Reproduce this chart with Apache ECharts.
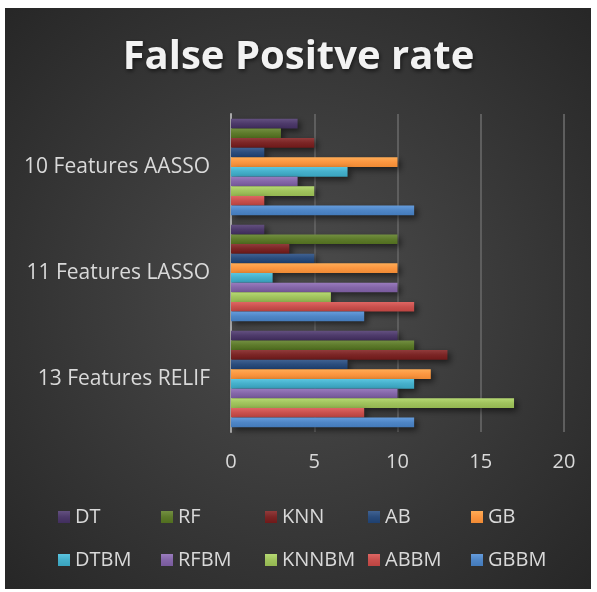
<!DOCTYPE html>
<html>
<head>
<meta charset="utf-8">
<title>False Positve rate</title>
<script src="https://cdn.jsdelivr.net/npm/echarts@6/dist/echarts.min.js"></script>
<style>
  html, body { margin: 0; padding: 0; background: #fff; }
  #chart { width: 597px; height: 592px; }
</style>
</head>
<body>
<div id="chart"></div>
<script>
// categories, bottom to top
const categories = ['13 Features RELIF', '11 Features LASSO', '10 Features AASSO'];
const xTicks = [0, 5, 10, 15, 20];

// values per series, in category order above
const DT    = [10, 2, 4];
const RF    = [11, 10, 3];
const KNN   = [13, 3.5, 5];
const AB    = [7, 5, 2];
const GB    = [12, 10, 10];
const DTBM  = [11, 2.5, 7];
const RFBM  = [10, 10, 4];
const KNNBM = [17, 6, 5];
const ABBM  = [8, 11, 2];
const GBBM  = [11, 8, 11];

const legendRow1 = ['DT', 'RF', 'KNN', 'AB', 'GB'];
const legendRow2 = ['DTBM', 'RFBM', 'KNNBM', 'ABBM', 'GBBM'];

// first series sits at the top of each group
const seriesList = [
  { name: 'DT',    data: DT,    color: '#4d3a6a' },
  { name: 'RF',    data: RF,    color: '#5d7a2b' },
  { name: 'KNN',   data: KNN,   color: '#7b2525' },
  { name: 'AB',    data: AB,    color: '#2a4c7c' },
  { name: 'GB',    data: GB,    color: '#fb9640' },
  { name: 'DTBM',  data: DTBM,  color: '#45afca' },
  { name: 'RFBM',  data: RFBM,  color: '#8466a8' },
  { name: 'KNNBM', data: KNNBM, color: '#a0c35d' },
  { name: 'ABBM',  data: ABBM,  color: '#c9504d' },
  { name: 'GBBM',  data: GBBM,  color: '#4f86c6' }
];

function shade(hex, amt) {
  let n = parseInt(hex.slice(1), 16);
  let r = Math.min(255, Math.max(0, (n >> 16) + amt));
  let g = Math.min(255, Math.max(0, ((n >> 8) & 255) + amt));
  let b = Math.min(255, Math.max(0, (n & 255) + amt));
  return 'rgb(' + r + ',' + g + ',' + b + ')';
}

function barGrad(c) {
  return {
    type: 'linear', x: 0, y: 0, x2: 0, y2: 1,
    colorStops: [
      { offset: 0, color: shade(c, 22) },
      { offset: 0.5, color: c },
      { offset: 1, color: shade(c, -12) }
    ]
  };
}

const font = '"Open Sans", sans-serif';

// one legend per item so the columns line up like the original
const legendCols = [53, 156, 260, 363, 466];
const legendTops = [502, 545];
const legends = [];
[legendRow1, legendRow2].forEach((row, r) => {
  row.forEach((name, i) => {
    legends.push({
      left: legendCols[i],
      top: legendTops[r],
      itemWidth: 12,
      itemHeight: 12,
      icon: 'rect',
      selectedMode: false,
      data: [name],
      textStyle: { color: '#d9d9d9', fontFamily: font, fontSize: 20 }
    });
  });
});

const option = {
  animation: false,
  graphic: [{
    type: 'rect',
    z: -10,
    silent: true,
    shape: { x: 5, y: 8, width: 586, height: 581 },
    style: {
      fill: {
        type: 'radial', x: 0.5, y: 0.5, r: 0.72,
        colorStops: [
          { offset: 0, color: '#4d4d4d' },
          { offset: 1, color: '#262626' }
        ]
      }
    }
  }],
  title: {
    text: 'False Positve rate',
    left: 'center',
    top: 33,
    textStyle: {
      color: '#f2f2f2',
      fontFamily: font,
      fontWeight: 'bold',
      fontSize: 40,
      textShadowColor: 'rgba(0,0,0,0.6)',
      textShadowBlur: 4,
      textShadowOffsetX: 1,
      textShadowOffsetY: 2
    }
  },
  legend: legends,
  grid: { left: 231, right: 33, top: 114, bottom: 160 },
  xAxis: {
    type: 'value',
    min: xTicks[0],
    max: xTicks[xTicks.length - 1],
    interval: 5,
    axisLine: { show: false },
    axisTick: { show: false },
    axisLabel: { color: '#d9d9d9', fontSize: 20, fontFamily: font, margin: 20 },
    splitLine: { lineStyle: { color: '#5e5e5e', width: 2 } }
  },
  yAxis: {
    type: 'category',
    data: categories,
    axisLine: { show: true, lineStyle: { color: '#a8a8a8', width: 2 } },
    axisTick: { show: false },
    axisLabel: { color: '#d9d9d9', fontSize: 21, fontFamily: font, margin: 21 }
  },
  series: seriesList.map(s => ({
    name: s.name,
    type: 'bar',
    data: s.data,
    barGap: '0%',
    barCategoryGap: '9%',
    itemStyle: {
      color: barGrad(s.color),
      shadowColor: 'rgba(0,0,0,0.55)',
      shadowBlur: 6,
      shadowOffsetX: 3,
      shadowOffsetY: 3
    },
    emphasis: { disabled: true }
  })),
  color: seriesList.map(s => s.color)
};

const chart = echarts.init(document.getElementById('chart'));
chart.setOption(option);
</script>
</body>
</html>
